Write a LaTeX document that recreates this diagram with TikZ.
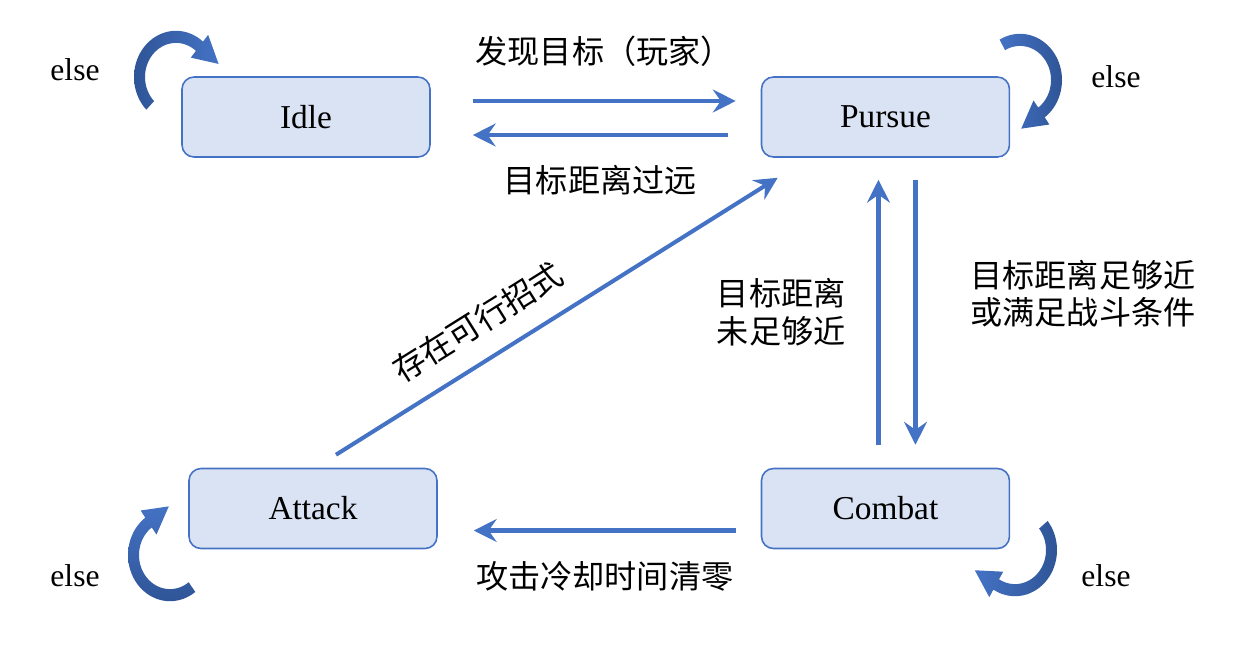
\documentclass[tikz,border=0pt]{standalone}
\usepackage{fontspec}
\setmainfont{Liberation Serif}
\newfontfamily\cjk{Noto Sans CJK SC}
\usetikzlibrary{arrows.meta, positioning, calc}

\definecolor{accent}{HTML}{4472C4}
\definecolor{accentdark}{HTML}{2F5597}
\definecolor{boxfill}{HTML}{DAE3F3}

% curved "else" arrow: centre, start angle, end angle, shading
\newcommand{\elsearrow}[4]{%
    \begin{scope}[shift={#1}, y=0.022cm]
        \pgfmathsetmacro{\tipang}{#3-90}
        \shade[#4] plot[domain=#2:#3, samples=40] (\x:42) -- (#3:50)
            -- ($(#3:36.5)+(\tipang:25)$) -- (#3:23)
            -- plot[domain=#3:#2, samples=40] (\x:31) -- cycle;
    \end{scope}}

\begin{document}
\begin{tikzpicture}[
            x = 0.02cm, y = -0.02cm, % one unit per pixel
            > = {Stealth[length=13pt, width=13pt, inset=4.5pt]}, % arrow head style
            statebox/.style = {
                draw = accent,
                line width = 0.9pt,
                fill = boxfill,
                rounded corners = 0.24cm,
                minimum width = 4.96cm,
                minimum height = 1.6cm,
                font = \fontsize{19}{23}\selectfont
            },
            flow/.style = {->, draw = accent, line width = 2.3pt},
            lbl/.style = {font = \cjk\fontsize{18.3}{21.5}\selectfont, inner sep = 0pt, align = center},
            note/.style = {font = \fontsize{18}{22}\selectfont, inner sep = 0pt}
        ]

        \useasboundingbox (0,0) rectangle (1233,647);

        \node[statebox] (Idle) at (306,117) {Idle};
        \node[statebox, right=6.6cm of Idle] (Pursue) {Pursue};
        \node[statebox, below=6.2cm of Pursue] (Combat) {Combat};
        \node[statebox, left=6.46cm of Combat] (Attack) {Attack};

        % Idle paths
        \draw[flow] ($(Idle.east)+(42,-16)$) -- node[lbl, above=0.64cm] (lblFound) {发现目标（玩家）} ($(Pursue.west)+(-25,-16)$);

        % Pursue paths
        \draw[flow] ($(Pursue.west)+(-33,18)$) -- node[lbl, below=0.56cm] (lblFar) {目标距离过远} ($(Idle.east)+(42,18)$);
        \draw[flow] ($(Pursue.south)+(30,22)$) -- node[lbl, pos=0.43, right=1.06cm] (lblNear) {目标距离足够近\\或满足战斗条件} ($(Combat.north)+(30,-23)$);

        % Combat paths
        \draw[flow] ($(Combat.north)+(-7,-23)$) -- node[lbl, left=0.62cm] (lblNotNear) {目标距离\\未足够近} ($(Pursue.south)+(-7,22)$);
        \draw[flow] ($(Combat.west)+(-25,22)$) -- node[lbl, below=0.58cm] (lblCool) {攻击冷却时间清零} ($(Attack.east)+(36,22)$);

        % Attack paths
        \draw[flow] ($(Attack.north)+(23,-13)$) -- node[lbl, pos=0.365, sloped, above=0.4cm] (lblSkill) {存在可行招式} ($(Pursue.south west)+(17,20)$);

        % else loops
        \elsearrow{(176,77)}{225}{50}{left color=accentdark, right color=accent}
        \elsearrow{(1020,80)}{119}{-54}{left color=accent, right color=accentdark}
        \elsearrow{(170,555)}{-53}{-234}{top color=accent, bottom color=accentdark}
        \elsearrow{(1015,550)}{39}{-121}{left color=accent, right color=accentdark}

        \node[note] (elseIdle) at (75,70) {else};
        \node[note] (elsePursue) at (1116,77) {else};
        \node[note] (elseAttack) at (75,576) {else};
        \node[note] (elseCombat) at (1106,576) {else};

    \end{tikzpicture}
\end{document}
